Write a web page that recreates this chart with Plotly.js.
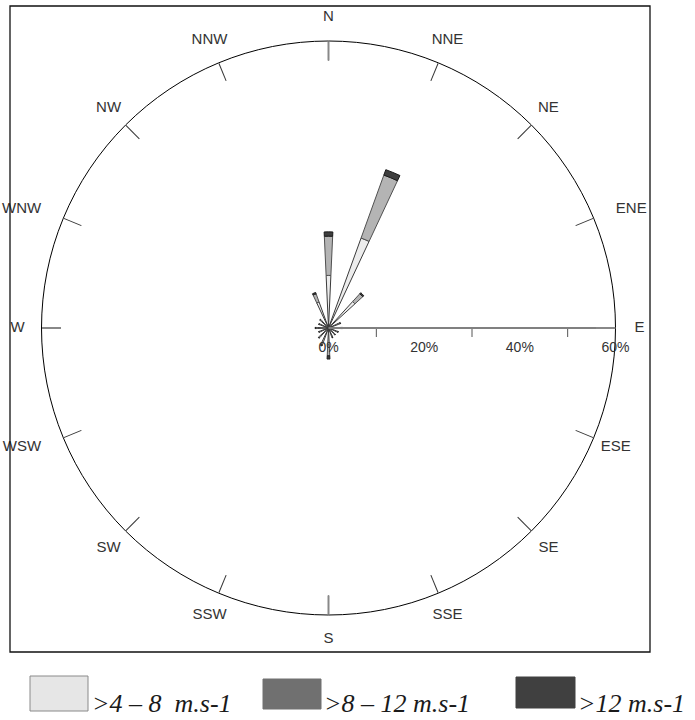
<!DOCTYPE html>
<html>
<head>
<meta charset="utf-8">
<script src="https://cdn.plot.ly/plotly-3.0.1.min.js"></script>
<style>html,body{margin:0;padding:0;background:#fff;}#chart{width:695px;height:720px;}</style>
</head>
<body>
<div id="chart"></div>
<script>
// ---- data ----
const directions = ['N','NNE','NE','ENE','E','ESE','SE','SSE','S','SSW','SW','WSW','W','WNW','NW','NNW'];
const speed4to8   = [11.0, 20.0, 7.5, 2.2, 2.4, 1.8, 1.6, 1.8, 3.5, 3.0, 2.3, 1.8, 2.3, 1.8, 2.0, 5.8];
const speed8to12  = [8.2, 14.0, 2.2, 0.4, 0.4, 0.3, 0.3, 0.3, 2.3, 0.8, 0.5, 0.3, 0.4, 0.3, 0.4, 1.8];
const speedOver12 = [0.9, 1.2, 0.3, 0.1, 0.1, 0.1, 0.1, 0.1, 0.7, 0.2, 0.1, 0.1, 0.1, 0.1, 0.1, 0.3];
const seriesNames = ['>4 – 8  m.s-1', '>8 – 12 m.s-1', '>12 m.s-1'];
const barColors = ['#ececec', '#b4b4b4', '#3e3e3e'];
const barLines = ['#3a3a3a', '#505050', '#1a1a1a'];
const legendColors = ['#e6e6e6', '#707070', '#404040'];
const radialTickVals = [10, 30, 50];
const radialLabelVals = [0, 20, 40, 60];
const radialLabelText = ['0%', '20%', '40%', '60%'];
const cardinalAngles = [0, 90, 180, 270];

const thetaDeg = directions.map((d, i) => i * 360 / directions.length);
const seriesVals = [speed4to8, speed8to12, speedOver12];

const traces = seriesVals.map((vals, k) => ({
  type: 'barpolar',
  r: vals,
  theta: thetaDeg,
  width: directions.map(() => 5.2),
  name: seriesNames[k],
  marker: {color: barColors[k], line: {color: barLines[k], width: 1}},
  subplot: 'polar',
  showlegend: false,
  hoverinfo: 'skip'
}));
traces.push({type: 'scatterpolar', r: [], theta: [], subplot: 'polar2', showlegend: false, hoverinfo: 'skip'});
// direction labels, set on the rim of a slightly larger label ring
const labelPos = directions.map(d => d === 'ENE' ? 'middle right' : (d === 'WNW' || d === 'WSW' ? 'middle left' : 'middle center'));
traces.push({type: 'scatterpolar', mode: 'text', r: directions.map(() => 1), theta: thetaDeg, text: directions,
  textposition: labelPos, textfont: {family: 'Liberation Sans, Arial, sans-serif', size: 15, color: '#333'},
  cliponaxis: false, subplot: 'polar3', showlegend: false, hoverinfo: 'skip'});

const W = 695, H = 720;
const px = x => x / W, py = y => 1 - y / H;
const cx = 328.5, cy = 328, R = 287, RL = 311;
const domX = [px(cx - R), px(cx + R)], domY = [py(cy + R), py(cy - R)];
const labX = [px(cx - RL), px(cx + RL)], labY = [py(cy + RL), py(cy - RL)];

const shapes = [{
  type: 'rect', xref: 'paper', yref: 'paper',
  x0: px(10), x1: px(650), y0: py(652), y1: py(6),
  line: {color: '#111', width: 1.3}, fillcolor: 'rgba(0,0,0,0)'
}];
const legBoxes = [[30, 88, 676, 711], [263, 321, 679, 709], [516, 575, 677, 708]];
const legTextX = [90, 322, 576];
const annotations = [];
legBoxes.forEach((b, k) => {
  shapes.push({type: 'rect', xref: 'paper', yref: 'paper',
    x0: px(b[0]), x1: px(b[1]), y0: py(b[3]), y1: py(b[2]),
    line: {color: k === 0 ? '#8a8a8a' : legendColors[k], width: 1}, fillcolor: legendColors[k]});
  annotations.push({xref: 'paper', yref: 'paper', x: px(legTextX[k]), y: py(703),
    xanchor: 'left', yanchor: 'middle', showarrow: false, text: '<i>' + seriesNames[k] + '</i>',
    font: {family: 'Liberation Serif, serif', size: 26, color: '#1a1a1a'}});
});

const angCommon = {type: 'linear', thetaunit: 'degrees', rotation: 90, direction: 'clockwise', showgrid: false};

const layout = {
  width: W, height: H,
  margin: {l: 0, r: 0, t: 0, b: 0},
  paper_bgcolor: '#fff',
  showlegend: false,
  font: {family: 'Liberation Sans, Arial, sans-serif', color: '#333'},
  polar: {
    domain: {x: domX, y: domY},
    bgcolor: '#fff',
    barmode: 'stack',
    angularaxis: Object.assign({}, angCommon, {
      tickmode: 'array', tickvals: thetaDeg,
      ticks: 'inside', ticklen: 19, tickwidth: 1, tickcolor: '#333',
      showticklabels: false, showline: true, linecolor: '#000', linewidth: 1
    }),
    radialaxis: {
      range: [0, 60], angle: 0, tickmode: 'array', tickvals: radialTickVals,
      ticks: 'outside', ticklen: 8, tickwidth: 1, tickcolor: '#555',
      showticklabels: false, showgrid: false, showline: true,
      linecolor: '#808080', linewidth: 2
    }
  },
  polar2: {
    domain: {x: domX, y: domY},
    bgcolor: 'rgba(0,0,0,0)',
    angularaxis: Object.assign({}, angCommon, {
      tickmode: 'array', tickvals: cardinalAngles,
      ticks: 'inside', ticklen: 19, tickwidth: 2, tickcolor: '#888',
      showticklabels: false, showline: false
    }),
    radialaxis: {
      range: [0, 60], angle: 0, tickmode: 'array', tickvals: radialLabelVals, ticktext: radialLabelText,
      ticks: 'outside', ticklen: 7, tickcolor: 'rgba(0,0,0,0)',
      showgrid: false, showline: false,
      tickfont: {size: 14, color: '#333'}
    }
  },
  polar3: {
    domain: {x: labX, y: labY},
    bgcolor: 'rgba(0,0,0,0)',
    angularaxis: Object.assign({}, angCommon, {visible: false, showticklabels: false, ticks: '', showline: false}),
    radialaxis: {range: [0, 1], visible: false, showgrid: false, showline: false, ticks: '', showticklabels: false}
  },
  shapes: shapes,
  annotations: annotations
};

Plotly.newPlot('chart', traces, layout, {displayModeBar: false, staticPlot: true});
</script>
</body>
</html>
